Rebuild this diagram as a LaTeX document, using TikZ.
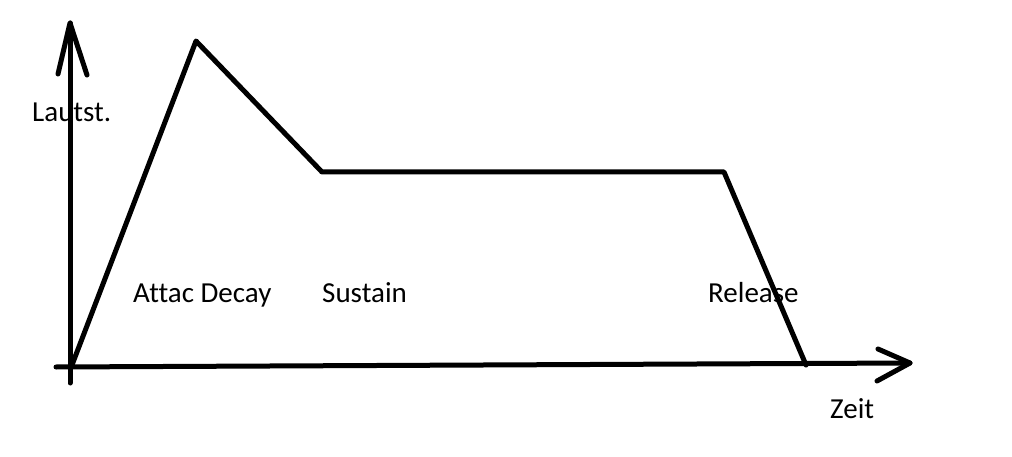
\documentclass[tikz,border=0pt]{standalone}
\usepackage{fontspec}
\setmainfont[Ligatures={NoCommon}]{Carlito}
\begin{document}
\begin{tikzpicture}[x=1pt,y=-1pt,
  stroke/.style={line width=5pt,line cap=round,line join=round},
  lbl/.style={anchor=base west,inner sep=0pt,font=\fontsize{29}{33}\selectfont}]
\useasboundingbox (0,0) rectangle (1012,457);
% axes
\coordinate (ybot) at (70,383);
\coordinate (ytop) at (70,23);
\coordinate (yl) at (58,74);
\coordinate (yr) at (87,75);
\coordinate (xl) at (56,367);
\coordinate (xr) at (910,363);
\coordinate (xu) at (878,349);
\coordinate (xd) at (877,381);
\draw[stroke] (ybot) -- (ytop);
\draw[stroke] (yl) -- (ytop) -- (yr);
\draw[stroke] (xl) -- (xr);
\draw[stroke] (xu) -- (xr) -- (xd);
% envelope
\coordinate (p0) at (72,365);
\coordinate (p1) at (196,41);
\coordinate (p2) at (322,172);
\coordinate (p3) at (724,172);
\coordinate (p4) at (806,365);
\draw[stroke] (p0) -- (p1) -- (p2) -- (p3) -- (p4);
% labels
\node[lbl] (lautst) at (32,122) {Lautst.};
\node[lbl] (attac) at (133,302) {Attac Decay};
\node[lbl] (sustain) at (322,302) {Sustain};
\node[lbl] (release) at (708,302) {Release};
\node[lbl] (zeit) at (830,418) {Zeit};
\end{tikzpicture}
\end{document}
